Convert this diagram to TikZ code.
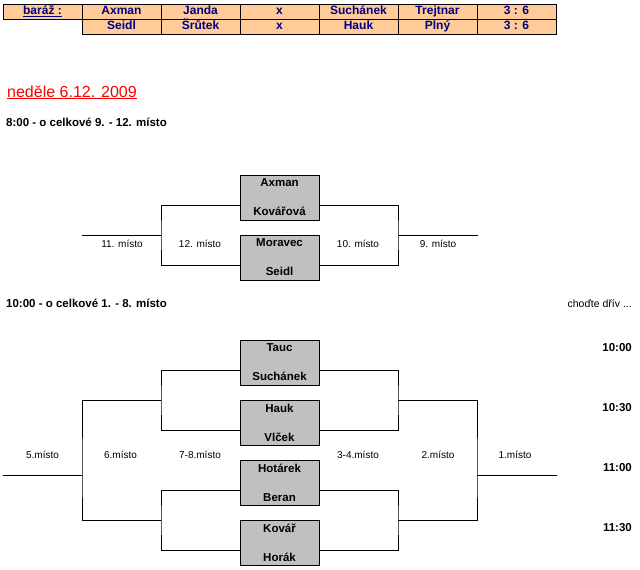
\documentclass[tikz,border=0pt]{standalone}
\usepackage{fontspec}
\setmainfont{Liberation Sans}
\usepackage{xcolor}
\usepackage{tikz}
\usetikzlibrary{positioning,calc}
\definecolor{peach}{HTML}{FFCC99}
\definecolor{navyblue}{HTML}{000080}
\definecolor{boxgray}{HTML}{C0C0C0}

\begin{document}
\begin{tikzpicture}[
  x=1pt, y=-1pt,
  every node/.style={align=center},
  cell/.style={draw, line width=1pt, fill=peach, minimum width=79pt, minimum height=15pt, inner sep=0pt,
    text height=8.5pt, text depth=2pt, text=navyblue, font=\fontsize{12}{13}\selectfont\bfseries},
  match/.style={draw, line width=1pt, fill=boxgray, minimum width=79pt, minimum height=45pt, inner sep=0pt,
    font=\fontsize{11.5}{13}\selectfont\bfseries},
  hdr/.style={anchor=base west, inner sep=0pt, font=\fontsize{11.5}{13}\selectfont\bfseries},
  lbl/.style={anchor=base, inner sep=0pt, font=\fontsize{10}{11}\selectfont},
  time/.style={anchor=base east, inner sep=0pt, font=\fontsize{11.5}{13}\selectfont\bfseries},
  wire/.style={line width=1pt}
]
\useasboundingbox (0,0) rectangle (640,570);

% baraz
\node[cell] (bar) at (42.5,11.5) {\underline{baráž :}};
\foreach \t [count=\i] in {Axman,Janda,x,Suchánek,Trejtnar,3 : 6}
  \node[cell] (top\i) at ({42.5+79*\i},11.5) {\t};
\foreach \t [count=\i] in {Seidl,Šrůtek,x,Hauk,Plný,3 : 6}
  \node[cell] (bot\i) at ({42.5+79*\i},26.5) {\t};

\node[anchor=base west, inner sep=0pt, text=red, font=\fontsize{16}{18}\selectfont] (day) at (7,97) {\underline{neděle 6.12. 2009}};

% 9.-12. misto
\node[hdr] (h1) at (6,126) {8:00 - o celkové 9. - 12. místo};

\node[match] (a1) at (279.5,197.5) {Axman\\[16pt]Kovářová};
\node[match] (a2) at (279.5,257.5) {Moravec\\[16pt]Seidl};

\coordinate (ja) at (161,235);
\coordinate (ka) at (398,235);
\coordinate (oa) at (82,235);
\coordinate (pa) at (478,235);

\draw[wire] ([yshift=-7.5pt]a1.west) -| (ja) |- ([yshift=-7.5pt]a2.west);
\draw[wire] ([yshift=-7.5pt]a1.east) -| (ka) |- ([yshift=-7.5pt]a2.east);
\draw[wire] (ja) -- (oa);
\draw[wire] (ka) -- (pa);

\node[lbl] (l11) at (122,247) {11. místo};
\node[lbl] (l12) at (200,247) {12. místo};
\node[lbl] (l10) at (358,247) {10. místo};
\node[lbl] (l9) at (438,247) {9. místo};

% 1.-8. misto
\node[hdr] (h2) at (6,307) {10:00 - o celkové 1. - 8. místo};
\node[anchor=base east, inner sep=0pt, font=\fontsize{10.5}{12}\selectfont] (early) at (632,307) {choďte dřív ...};

\node[match] (b1) at (279.5,362.5) {Tauc\\[16pt]Suchánek};
\node[match] (b2) at (279.5,422.5) {Hauk\\[16pt]Vlček};
\node[match] (b3) at (279.5,482.5) {Hotárek\\[16pt]Beran};
\node[match] (b4) at (279.5,542.5) {Kovář\\[16pt]Horák};

\coordinate (q1) at (161,400);
\coordinate (q2) at (161,520);
\coordinate (r1) at (398,400);
\coordinate (r2) at (398,520);
\coordinate (s) at (82,475);
\coordinate (t) at (477,475);
\coordinate (so) at (3,475);
\coordinate (to) at (557,475);

\draw[wire] ([yshift=-7.5pt]b1.west) -| (q1) |- ([yshift=-7.5pt]b2.west);
\draw[wire] ([yshift=-7.5pt]b3.west) -| (q2) |- ([yshift=-7.5pt]b4.west);
\draw[wire] ([yshift=-7.5pt]b1.east) -| (r1) |- ([yshift=-7.5pt]b2.east);
\draw[wire] ([yshift=-7.5pt]b3.east) -| (r2) |- ([yshift=-7.5pt]b4.east);
\draw[wire] (q1) -| (s) |- (q2);
\draw[wire] (r1) -| (t) |- (r2);
\draw[wire] (s) -- (so);
\draw[wire] (t) -- (to);

\node[lbl] (l5) at (42.5,458) {5.místo};
\node[lbl] (l6) at (120.5,458) {6.místo};
\node[lbl] (l78) at (200,458) {7-8.místo};
\node[lbl] (l34) at (358,458) {3-4.místo};
\node[lbl] (l2) at (438,458) {2.místo};
\node[lbl] (l1) at (515,458) {1.místo};

\node[time] (t1) at (632,351) {10:00};
\node[time] (t2) at (632,411) {10:30};
\node[time] (t3) at (632,471) {11:00};
\node[time] (t4) at (632,531) {11:30};
\end{tikzpicture}
\end{document}
